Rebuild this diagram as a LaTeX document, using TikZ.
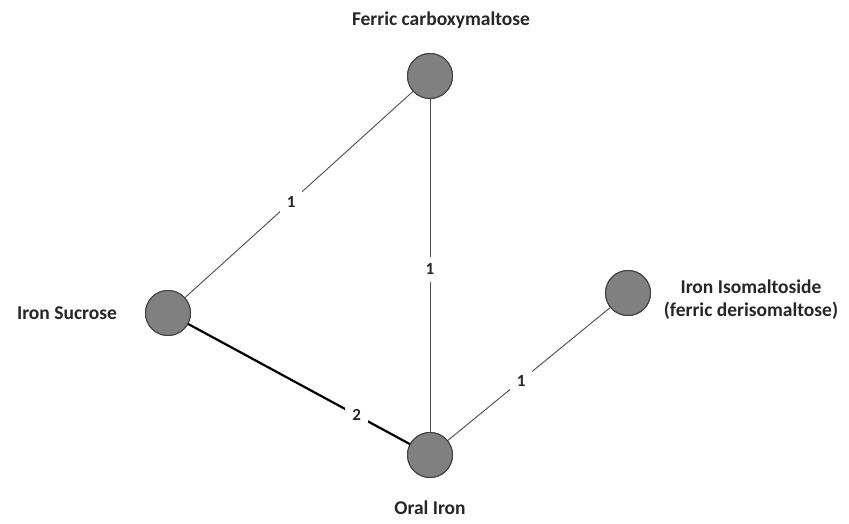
\documentclass[tikz,border=0pt]{standalone}
\usepackage{fontspec}
\setmainfont{Carlito}
\begin{document}
\begin{tikzpicture}[x=1pt,y=-1pt,every node/.style={font=\fontsize{19.5}{23}\selectfont\bfseries,inner sep=1pt,text=black!85}]
\tikzset{drug/.style={circle,draw=black!75,fill=black!50,line width=1pt,minimum size=45pt,inner sep=0pt},
  weight/.style={fill=white,inner sep=7pt,font=\fontsize{17}{19}\selectfont\bfseries}}
\useasboundingbox (0,0) rectangle (849,523);
\node[drug] (fcm) at (430,76) {};
\node[drug] (is) at (168,313) {};
\node[drug] (oi) at (430,455) {};
\node[drug] (iis) at (628,293) {};
\node (lfcm) at (441,20) {Ferric carboxymaltose};
\node (lis) at (67,313) {Iron Sucrose};
\node (loi) at (430,508) {Oral Iron};
\node[align=center] (liis) at (751,300) {Iron Isomaltoside\\(ferric derisomaltose)};
\foreach \a/\b/\w/\pos in {fcm/is/1/0.53,fcm/oi/1/0.51,oi/iis/1/0.46}
  \draw[black!70,line width=0.9pt] (\a.center)--(\b.center) node[weight,pos=\pos] {\w};
\draw[black,line width=2.2pt] (is.center)--(oi.center) node[weight,pos=0.72] {2};
\foreach \n in {fcm,is,oi,iis}
  \node[drug] at (\n) {};
\end{tikzpicture}
\end{document}
